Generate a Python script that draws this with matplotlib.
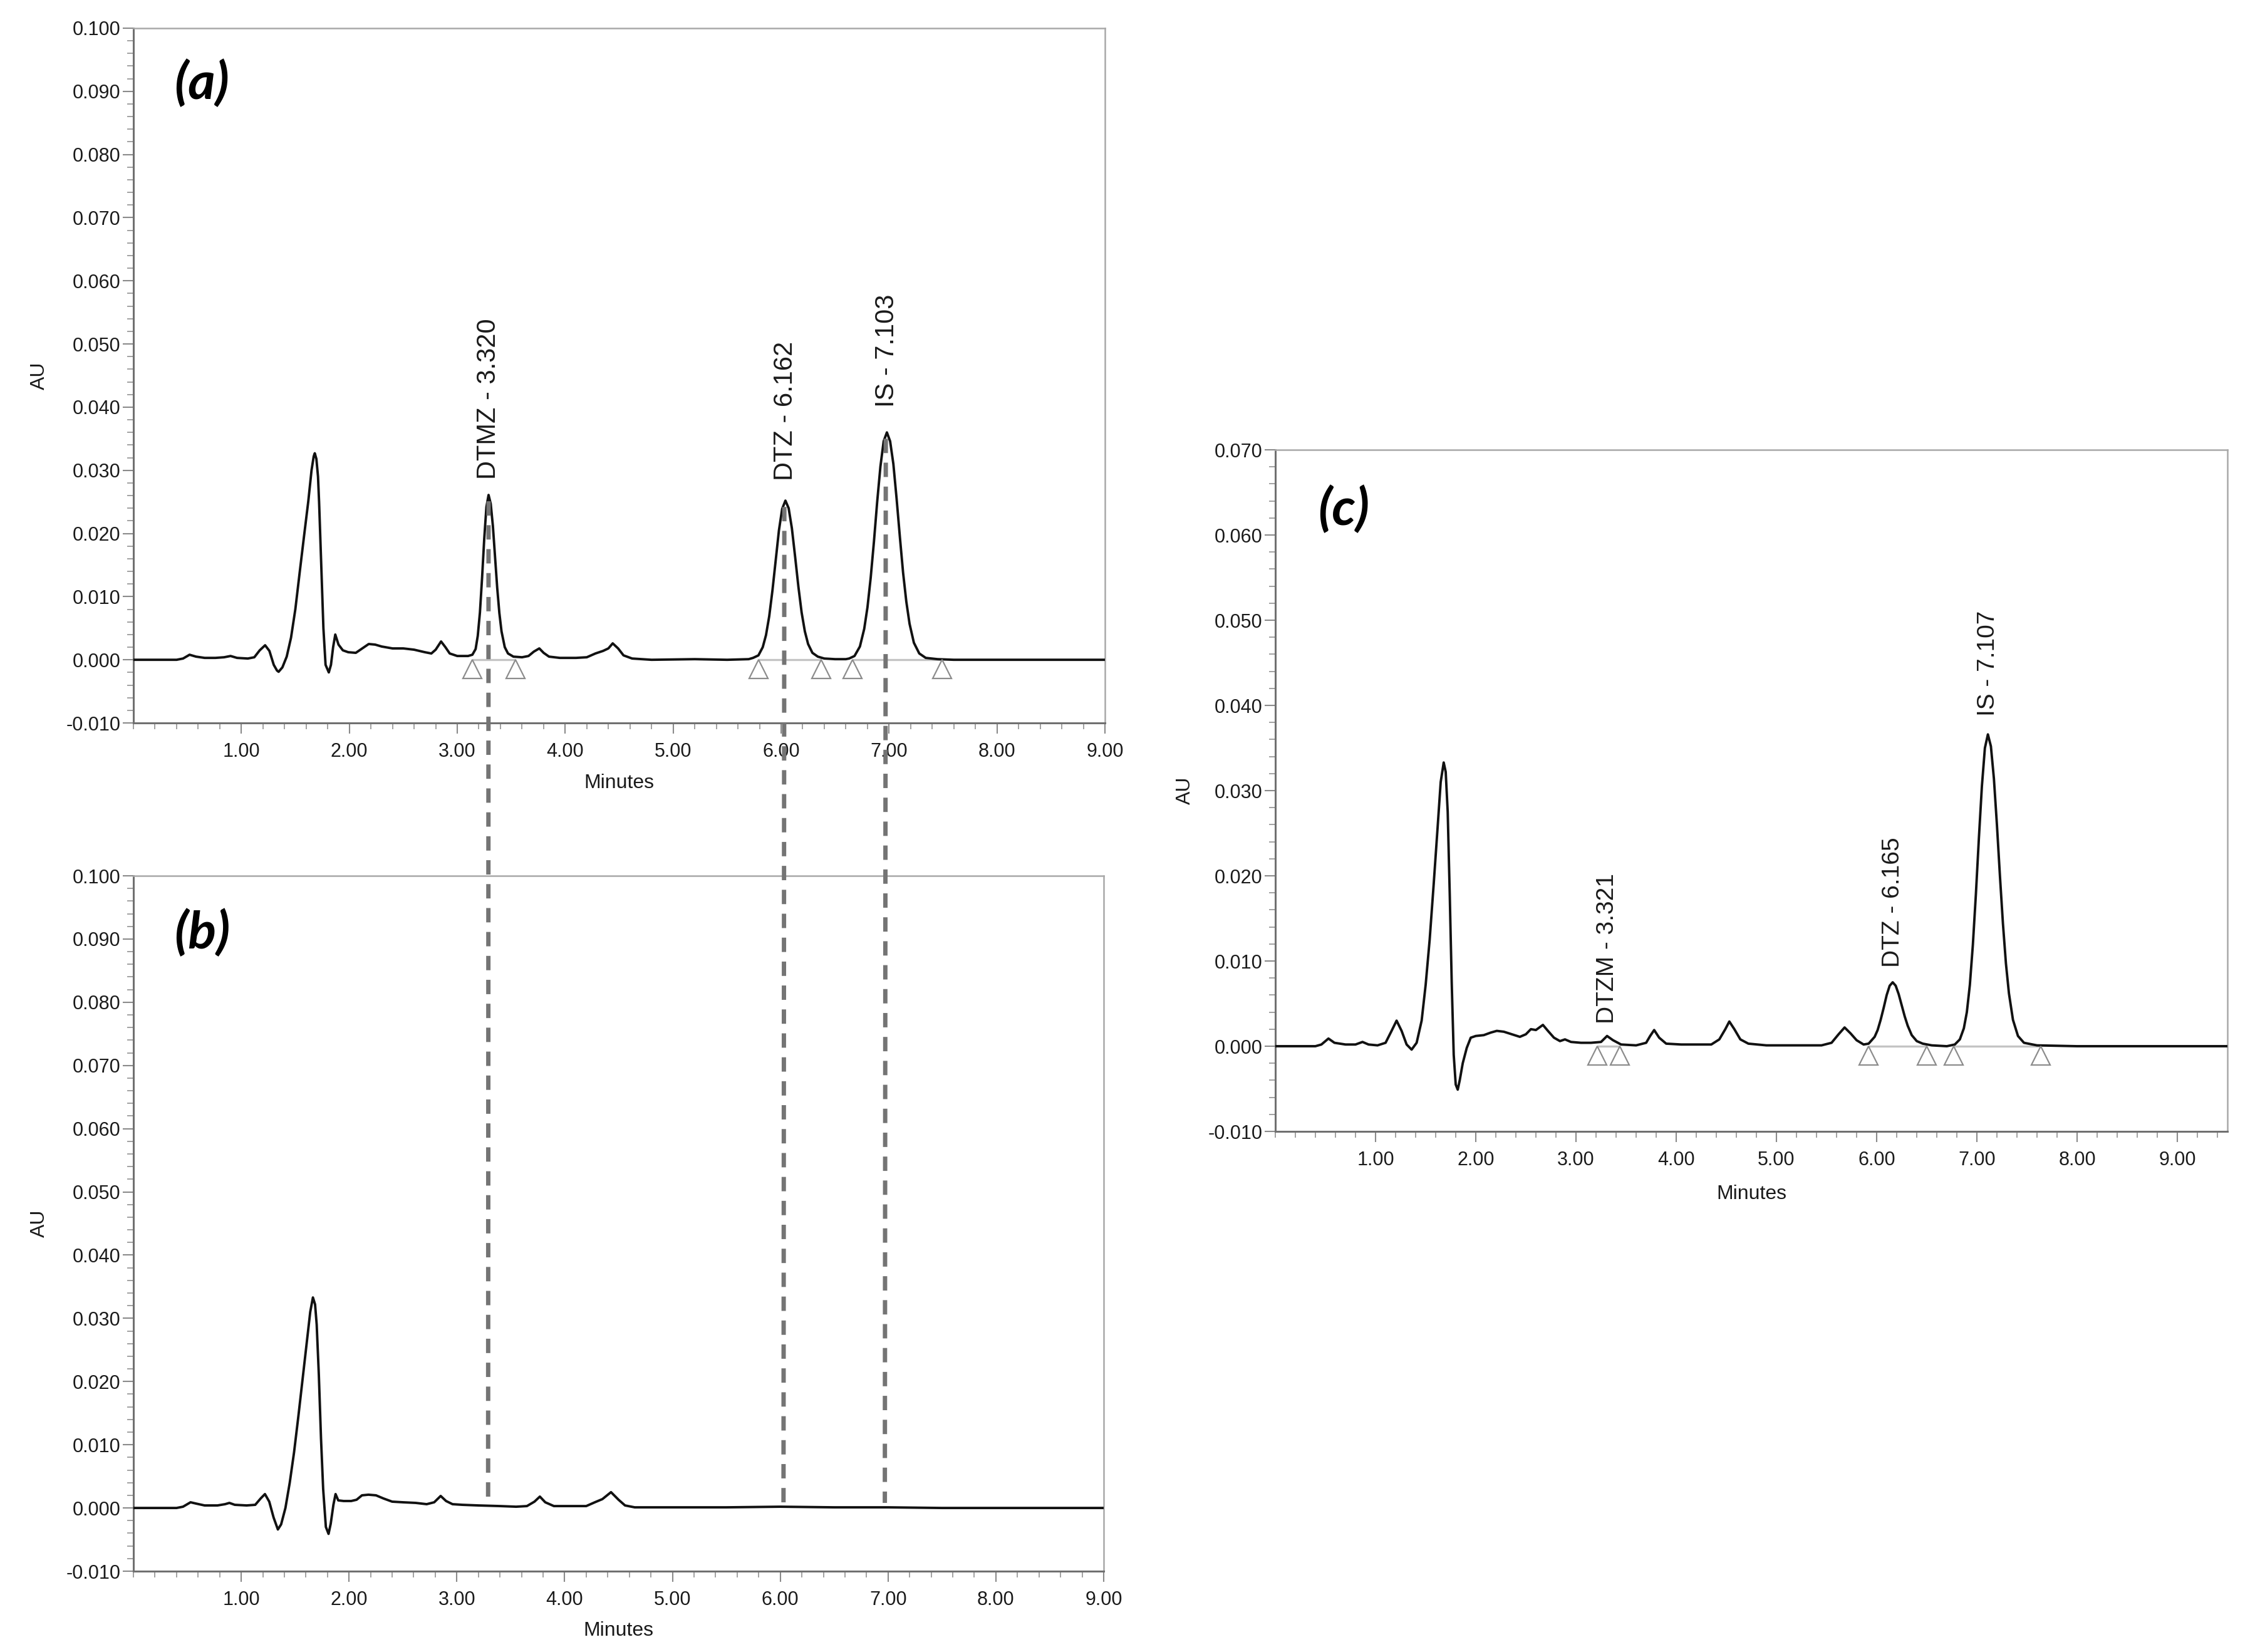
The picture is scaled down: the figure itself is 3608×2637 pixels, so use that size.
import matplotlib
matplotlib.use("Agg")
import matplotlib.pyplot as plt
from matplotlib.patches import ConnectionPatch
from matplotlib.ticker import FixedLocator, MultipleLocator, FormatStrFormatter
from matplotlib import transforms

# ---------------- data ----------------
# Panel (a): spiked sample
t_a = [0.00, 0.20, 0.40, 0.46, 0.52, 0.58, 0.66, 0.76, 0.84, 0.90, 0.96, 1.06, 1.12, 1.17, 1.22, 1.26,
       1.30, 1.33, 1.345, 1.38, 1.42, 1.46, 1.50, 1.54, 1.58, 1.62, 1.65, 1.67, 1.68, 1.695, 1.71, 1.72,
       1.74, 1.76, 1.78, 1.81, 1.83, 1.85, 1.87, 1.90, 1.94, 1.99, 2.06, 2.12, 2.18, 2.24, 2.30, 2.40,
       2.50, 2.60, 2.70, 2.76, 2.80, 2.85, 2.89, 2.93, 3.00, 3.10, 3.14, 3.17, 3.19, 3.21, 3.23, 3.25,
       3.27, 3.29, 3.31, 3.33, 3.35, 3.37, 3.39, 3.41, 3.44, 3.47, 3.52, 3.60, 3.66, 3.71, 3.76, 3.80,
       3.85, 3.95, 4.10, 4.20, 4.28, 4.35, 4.40, 4.44, 4.49, 4.54, 4.62, 4.80, 5.20, 5.50, 5.70, 5.74,
       5.79, 5.83, 5.86, 5.89, 5.92, 5.95, 5.98, 6.01, 6.04, 6.07, 6.10, 6.13, 6.16, 6.19, 6.22, 6.25,
       6.29, 6.34, 6.40, 6.50, 6.60, 6.63, 6.68, 6.73, 6.77, 6.80, 6.83, 6.86, 6.89, 6.92, 6.95, 6.98,
       7.01, 7.04, 7.07, 7.10, 7.13, 7.16, 7.19, 7.23, 7.28, 7.34, 7.45, 7.60, 8.00, 8.50, 9.00]
au_a = [0.0000, 0.0000, 0.0000, 0.0002, 0.0008, 0.0005, 0.0003, 0.0003, 0.0004, 0.0006, 0.0003, 0.0002,
        0.0004, 0.0015, 0.0023, 0.0014, -0.0008, -0.0017, -0.0019, -0.0012, 0.0005, 0.0035, 0.0080,
        0.0138, 0.0195, 0.0251, 0.0300, 0.0322, 0.0327, 0.0318, 0.0290, 0.0250, 0.0150, 0.0050, -0.0008,
        -0.0020, -0.0008, 0.0020, 0.0040, 0.0024, 0.0015, 0.0012, 0.0011, 0.0018, 0.0025, 0.0024, 0.0021,
        0.0018, 0.0018, 0.0016, 0.0012, 0.0010, 0.0016, 0.0029, 0.0020, 0.0010, 0.0006, 0.0006, 0.0008,
        0.0017, 0.0038, 0.0075, 0.0130, 0.0192, 0.0242, 0.0261, 0.0247, 0.0212, 0.0163, 0.0114, 0.0074,
        0.0045, 0.0020, 0.0010, 0.0005, 0.0004, 0.0006, 0.0013, 0.0018, 0.0011, 0.0005, 0.0003, 0.0003,
        0.0004, 0.0010, 0.0014, 0.0018, 0.0026, 0.0018, 0.0007, 0.0002, 0.0000, 0.0001, 0.0000, 0.0001,
        0.0003, 0.0007, 0.0020, 0.0039, 0.0069, 0.0110, 0.0158, 0.0205, 0.0239, 0.0252, 0.0240, 0.0208,
        0.0163, 0.0116, 0.0075, 0.0045, 0.0025, 0.0011, 0.0005, 0.0002, 0.0001, 0.0001, 0.0002, 0.0006,
        0.0021, 0.0049, 0.0083, 0.0130, 0.0187, 0.0250, 0.0306, 0.0346, 0.0360, 0.0346, 0.0310, 0.0255,
        0.0195, 0.0138, 0.0092, 0.0057, 0.0027, 0.0010, 0.0003, 0.0001, 0.0000, 0.0000, 0.0000, 0.0000]

# Panel (b): blank
t_b = [0.00, 0.40, 0.46, 0.53, 0.58, 0.66, 0.78, 0.85, 0.89, 0.94, 1.05, 1.13, 1.18, 1.22, 1.26, 1.30,
       1.34, 1.37, 1.41, 1.45, 1.49, 1.53, 1.57, 1.61, 1.64, 1.665, 1.685, 1.70, 1.72, 1.74, 1.76, 1.785,
       1.81, 1.83, 1.855, 1.875, 1.90, 1.95, 2.02, 2.07, 2.12, 2.18, 2.25, 2.32, 2.40, 2.50, 2.62, 2.72,
       2.79, 2.85, 2.90, 2.96, 3.05, 3.20, 3.40, 3.55, 3.65, 3.72, 3.77, 3.82, 3.90, 4.05, 4.20, 4.28,
       4.35, 4.43, 4.50, 4.56, 4.65, 5.00, 5.50, 6.00, 6.50, 7.00, 7.50, 9.00]
au_b = [0.0000, 0.0000, 0.0002, 0.0009, 0.0007, 0.0004, 0.0004, 0.0006, 0.0008, 0.0005, 0.0004, 0.0005,
        0.0015, 0.0022, 0.0010, -0.0015, -0.0034, -0.0026, 0.0000, 0.0040, 0.0088, 0.0145, 0.0205,
        0.0265, 0.0310, 0.0333, 0.0322, 0.0290, 0.0210, 0.0110, 0.0030, -0.0030, -0.0041, -0.0025,
        0.0005, 0.0022, 0.0012, 0.0011, 0.0011, 0.0013, 0.0020, 0.0021, 0.0020, 0.0015, 0.0010, 0.0009,
        0.0008, 0.0006, 0.0009, 0.0019, 0.0011, 0.0006, 0.0005, 0.0004, 0.0003, 0.0002, 0.0003, 0.0010,
        0.0018, 0.0009, 0.0003, 0.0003, 0.0003, 0.0009, 0.0014, 0.0025, 0.0013, 0.0004, 0.0001, 0.0001,
        0.0001, 0.0002, 0.0001, 0.0001, 0.0000, 0.0000]

# Panel (c): patient sample
t_c = [0.00, 0.40, 0.46, 0.53, 0.59, 0.70, 0.80, 0.87, 0.93, 1.02, 1.10, 1.16, 1.21, 1.26, 1.31, 1.36,
       1.41, 1.46, 1.50, 1.54, 1.58, 1.62, 1.65, 1.68, 1.70, 1.72, 1.74, 1.76, 1.78, 1.80, 1.82, 1.84,
       1.87, 1.91, 1.95, 2.00, 2.08, 2.15, 2.21, 2.28, 2.36, 2.44, 2.50, 2.55, 2.60, 2.67, 2.72, 2.78,
       2.84, 2.89, 2.95, 3.05, 3.15, 3.25, 3.31, 3.37, 3.45, 3.60, 3.70, 3.74, 3.78, 3.83, 3.90, 4.05,
       4.20, 4.35, 4.43, 4.49, 4.53, 4.58, 4.64, 4.72, 4.90, 5.20, 5.45, 5.55, 5.62, 5.68, 5.74, 5.80,
       5.87, 5.92, 5.98, 6.01, 6.04, 6.07, 6.10, 6.13, 6.16, 6.19, 6.22, 6.25, 6.28, 6.31, 6.35, 6.40,
       6.46, 6.55, 6.70, 6.78, 6.83, 6.87, 6.90, 6.93, 6.96, 6.99, 7.02, 7.05, 7.08, 7.11, 7.14, 7.17,
       7.20, 7.23, 7.26, 7.29, 7.32, 7.36, 7.41, 7.47, 7.60, 8.00, 9.50]
au_c = [0.0000, 0.0000, 0.0002, 0.0009, 0.0004, 0.0002, 0.0002, 0.0005, 0.0002, 0.0001, 0.0004, 0.0018,
        0.0030, 0.0018, 0.0002, -0.0004, 0.0004, 0.0030, 0.0072, 0.0125, 0.0190, 0.0258, 0.0310, 0.0333,
        0.0322, 0.0275, 0.0180, 0.0075, -0.0010, -0.0045, -0.0051, -0.0040, -0.0020, -0.0002, 0.0010,
        0.0012, 0.0013, 0.0016, 0.0018, 0.0017, 0.0014, 0.0011, 0.0014, 0.0020, 0.0019, 0.0025, 0.0018,
        0.0010, 0.0006, 0.0008, 0.0005, 0.0004, 0.0004, 0.0005, 0.0012, 0.0007, 0.0002, 0.0001, 0.0004,
        0.0012, 0.0019, 0.0010, 0.0003, 0.0002, 0.0002, 0.0002, 0.0008, 0.0020, 0.0029, 0.0020, 0.0008,
        0.0003, 0.0001, 0.0001, 0.0001, 0.0004, 0.0014, 0.0022, 0.0015, 0.0007, 0.0002, 0.0003, 0.0011,
        0.0019, 0.0031, 0.0045, 0.0060, 0.0071, 0.0075, 0.0071, 0.0061, 0.0048, 0.0035, 0.0024, 0.0013,
        0.0006, 0.0003, 0.0001, 0.0000, 0.0002, 0.0008, 0.0021, 0.0040, 0.0072, 0.0119, 0.0178, 0.0244,
        0.0305, 0.0350, 0.0366, 0.0352, 0.0314, 0.0260, 0.0200, 0.0144, 0.0097, 0.0062, 0.0031, 0.0012,
        0.0004, 0.0001, 0.0000, 0.0000]

# Peak annotations
labels_a = ["DTMZ - 3.320", "DTZ - 6.162", "IS - 7.103"]
peak_t_a = [3.29, 6.04, 6.98]
peak_h_a = [0.0261, 0.0252, 0.0360]
labels_c = ["DTZM - 3.321", "DTZ - 6.165", "IS - 7.107"]
peak_t_c = [3.31, 6.16, 7.11]
peak_h_c = [0.0012, 0.0075, 0.0366]

# Integration marks (start/end of peaks)
marks_a = [3.14, 3.54, 5.79, 6.37, 6.66, 7.49]
marks_c = [3.21, 3.44, 5.92, 6.50, 6.77, 7.64]

# Dashed guide lines between (a) and (b)
guide_t = [3.29, 6.03, 6.97]
guide_top = [0.0251, 0.0242, 0.0350]
guide_bottom = 0.0008

xticks_ab = [1, 2, 3, 4, 5, 6, 7, 8, 9]
yticks_ab = [-0.010, 0.000, 0.010, 0.020, 0.030, 0.040, 0.050, 0.060, 0.070, 0.080, 0.090, 0.100]
yticks_c = [-0.010, 0.000, 0.010, 0.020, 0.030, 0.040, 0.050, 0.060, 0.070]

# ---------------- style ----------------
plt.rcParams['font.family'] = ['Liberation Sans', 'DejaVu Sans']
W, H = 3608, 2637
fig = plt.figure(figsize=(W / 100, H / 100), dpi=100)


def frac(left, right, top, bottom):
    return [left / W, 1 - bottom / H, (right - left) / W, (bottom - top) / H]


ax_a = fig.add_axes(frac(213, 1764, 45, 1154))
ax_b = fig.add_axes(frac(213, 1762, 1398, 2508))
ax_c = fig.add_axes(frac(2036, 3556, 718, 1806))

TRACE = '#111111'
TICK_FS = 22
LBL_FS = 23


def style_axis(ax, xmax, yticks, ymin, ymax, au_x, min_y):
    ax.set_xlim(0, xmax)
    ax.set_ylim(ymin, ymax)
    ax.xaxis.set_major_locator(FixedLocator(xticks_ab))
    ax.xaxis.set_minor_locator(MultipleLocator(0.2))
    ax.xaxis.set_major_formatter(FormatStrFormatter('%.2f'))
    ax.yaxis.set_major_locator(FixedLocator(yticks))
    ax.yaxis.set_minor_locator(MultipleLocator(0.002))
    ax.yaxis.set_major_formatter(FormatStrFormatter('%.3f'))
    for s in ['left', 'bottom']:
        ax.spines[s].set_color('#707070')
        ax.spines[s].set_linewidth(2.2)
    for s in ['top', 'right']:
        ax.spines[s].set_color('#a8a8a8')
        ax.spines[s].set_linewidth(1.8)
    ax.tick_params(which='major', length=12, width=1.5, color='#8a8a8a',
                   labelsize=TICK_FS, labelcolor='#1a1a1a')
    ax.tick_params(which='minor', length=7, width=1.3, color='#9a9a9a')
    ax.tick_params(axis='x', which='major', pad=10)
    ax.tick_params(axis='y', which='major', pad=3)
    ax.text(au_x, 0.5, 'AU', rotation=90, transform=ax.transAxes, ha='center', va='center',
            fontsize=LBL_FS, color='#1a1a1a')
    ax.text(0.5, min_y, 'Minutes', transform=ax.transAxes, ha='center', va='center',
            fontsize=LBL_FS, color='#1a1a1a')


style_axis(ax_a, 9, yticks_ab, -0.010, 0.100, -0.097, -0.087)
style_axis(ax_b, 9, yticks_ab, -0.010, 0.100, -0.097, -0.086)
style_axis(ax_c, 9.5, yticks_c, -0.010, 0.070, -0.095, -0.092)

# integration baselines
for ax, m in [(ax_a, marks_a), (ax_c, marks_c)]:
    for i in range(0, len(m), 2):
        ax.plot([m[i], m[i + 1]], [0, 0], color='#c4c4c4', lw=2.4, zorder=2, solid_capstyle='butt')

# traces
for ax, t, y in [(ax_a, t_a, au_a), (ax_b, t_b, au_b), (ax_c, t_c, au_c)]:
    ax.plot(t, y, color=TRACE, lw=2.8, zorder=3, solid_joinstyle='round')

# triangle markers just below the baseline
MS = 22
for ax, m in [(ax_a, marks_a), (ax_c, marks_c)]:
    tr = transforms.offset_copy(ax.transData, fig=fig, y=-MS / 2, units='points')
    ax.plot(m, [0] * len(m), linestyle='none', marker='^', ms=MS, mfc='white',
            mec='#8c8c8c', mew=1.6, transform=tr, zorder=4, clip_on=False)

# peak labels
offs_a = [18, 23, 29]
offs_c = [14, 17, 21]
for lab, t, h, o in zip(labels_a, peak_t_a, peak_h_a, offs_a):
    ax_a.annotate(lab, (t, h), xytext=(0, o), textcoords='offset points', rotation=90,
                  ha='center', va='bottom', fontsize=30, color='#1a1a1a')
for lab, t, h, o in zip(labels_c, peak_t_c, peak_h_c, offs_c):
    ax_c.annotate(lab, (t, h), xytext=(0, o), textcoords='offset points', rotation=90,
                  ha='center', va='bottom', fontsize=28, color='#1a1a1a')

# panel letters
for ax, lab, x, y in [(ax_a, '(a)', 0.042, 0.92), (ax_b, '(b)', 0.042, 0.918), (ax_c, '(c)', 0.045, 0.912)]:
    ax.text(x, y, lab, transform=ax.transAxes, ha='left', va='center', fontsize=60,
            fontweight='bold', fontstyle='italic', family=['Lato', 'Open Sans', 'DejaVu Sans'],
            color='black')

# dashed guide lines from (a) into (b)
for t, top in zip(guide_t, guide_top):
    con = ConnectionPatch(xyA=(t, top), coordsA=ax_a.transData, xyB=(t, guide_bottom),
                          coordsB=ax_b.transData, color='#747474', lw=5.0,
                          linestyle=(0, (3.3, 2.2)), capstyle='butt', zorder=10)
    fig.add_artist(con)

fig.savefig('out.png', dpi=100, facecolor='white')
